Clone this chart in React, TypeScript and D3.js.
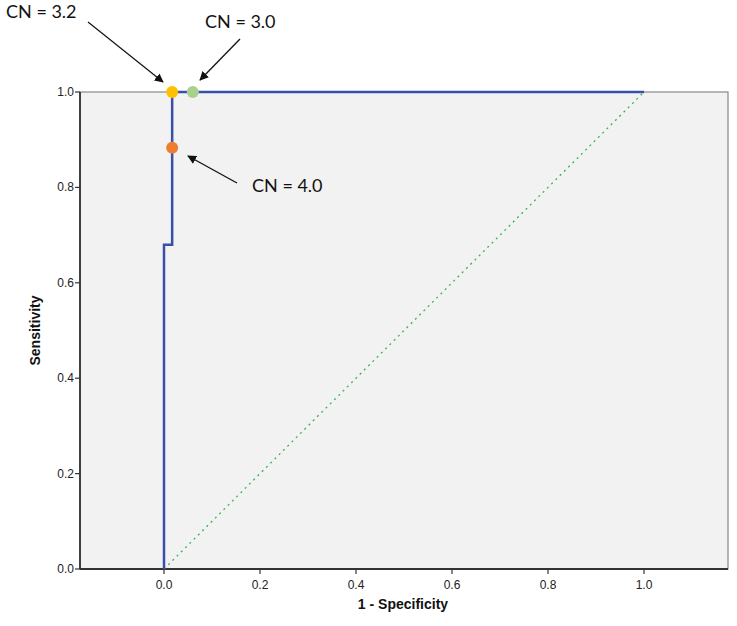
import React from "react";
import * as d3 from "d3";

const rocX = [0, 0, 0.017, 0.017, 1.0];
const rocY = [0, 0.68, 0.68, 1.0, 1.0];
const diagX = [0, 1];
const diagY = [0, 1];
const pointLabels = ["CN = 3.2", "CN = 3.0", "CN = 4.0"];
const pointX = [0.017, 0.06, 0.017];
const pointY = [1.0, 1.0, 0.883];
const pointColors = ["#ffc000", "#a9d18e", "#ed7d31"];
const tickValues = [0, 0.2, 0.4, 0.6, 0.8, 1.0];
const xTitle = "1 - Specificity";
const yTitle = "Sensitivity";

const W = 737;
const H = 626;
const L = 80, R = 728, T = 92, B = 569;

export default function App() {
  const x = d3.scaleLinear().domain([-0.175, 1.175]).range([L, R]);
  const y = d3.scaleLinear().domain([0, 1]).range([B, T]);
  const line = d3.line<number>().x((_, i) => x(rocX[i])).y((d) => y(d));
  const rocPath = line(rocY) || "";
  const diagPath = d3.line<number>().x((_, i) => x(diagX[i])).y((d) => y(d))(diagY) || "";

  // annotation text & arrows (layout)
  const ann = [
    { tx: 6, ty: 18, sx: 88, sy: 22, ex: 163, ey: 82 },
    { tx: 205, ty: 28, sx: 240, sy: 39, ex: 200, ey: 80 },
    { tx: 252, ty: 192, sx: 237, sy: 183, ex: 188, ey: 156 },
  ];

  return (
    <svg width={W} height={H} style={{ position: "absolute", left: 0, top: 0, background: "#fff" }}
      fontFamily="'Liberation Sans', Arial, sans-serif">
      <defs>
        <marker id="arr" viewBox="0 0 10 10" refX="9" refY="5" markerWidth="9" markerHeight="9" orient="auto" markerUnits="userSpaceOnUse">
          <path d="M0,0 L10,5 L0,10 z" fill="#111" />
        </marker>
      </defs>
      <rect x={L} y={T} width={R - L} height={B - T} fill="#f2f2f2" stroke="#888" strokeWidth={1.2} />
      <line x1={L} y1={T} x2={L} y2={B} stroke="#333" strokeWidth={1.8} />
      <line x1={L} y1={B} x2={R} y2={B} stroke="#333" strokeWidth={1.8} />
      {tickValues.map((t) => (
        <g key={"y" + t}>
          <line x1={L - 5} x2={L} y1={y(t)} y2={y(t)} stroke="#333" strokeWidth={1.2} />
          <text x={L - 6} y={y(t) + 4} textAnchor="end" fontSize={12} fill="#222">{t.toFixed(1)}</text>
        </g>
      ))}
      {tickValues.map((t) => (
        <g key={"x" + t}>
          <line x1={x(t)} x2={x(t)} y1={B} y2={B + 5} stroke="#333" strokeWidth={1.2} />
          <text x={x(t)} y={B + 20} textAnchor="middle" fontSize={12} fill="#222">{t.toFixed(1)}</text>
        </g>
      ))}
      <text x={(L + R) / 2 - 1} y={609} textAnchor="middle" fontSize={14} fontWeight="bold" fill="#111">{xTitle}</text>
      <text transform={`translate(40,${(T + B) / 2}) rotate(-90)`} textAnchor="middle" fontSize={14} fontWeight="bold" fill="#111">{yTitle}</text>
      <path d={diagPath} fill="none" stroke="#3cb24a" strokeWidth={1.3} strokeDasharray="2,4" />
      <path d={rocPath} fill="none" stroke="#3a4fa8" strokeWidth={2.5} />
      {pointX.map((px, i) => (
        <circle key={i} cx={x(px)} cy={y(pointY[i])} r={6} fill={pointColors[i]} />
      ))}
      {ann.map((a, i) => (
        <g key={"a" + i}>
          <line x1={a.sx} y1={a.sy} x2={a.ex} y2={a.ey} stroke="#111" strokeWidth={1.3} markerEnd="url(#arr)" />
          <text x={a.tx} y={a.ty} fontSize={18} fontFamily="Lato, 'Open Sans', sans-serif" fill="#111">{pointLabels[i]}</text>
        </g>
      ))}
    </svg>
  );
}
